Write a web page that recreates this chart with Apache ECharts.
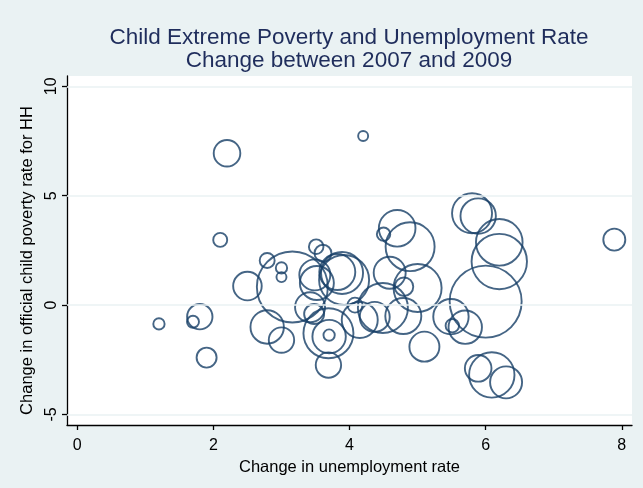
<!DOCTYPE html>
<html>
<head>
<meta charset="utf-8">
<script src="https://cdn.jsdelivr.net/npm/echarts@6/dist/echarts.min.js"></script>
<style>
html,body{margin:0;padding:0;background:#EAF2F3;}
#chart{width:643px;height:488px;}
</style>
</head>
<body>
<div id="chart"></div>
<script>
// Change in unemployment rate (x), change in child poverty rate (y), weight (bubble area)
const unemploymentChange = [1.20,1.70,1.80,1.90,2.20,2.10,2.50,2.79,3.00,3.00,2.79,3.00,3.16,3.42,3.48,3.70,3.70,3.69,3.69,3.51,3.61,3.49,3.52,3.82,3.89,3.92,4.20,4.08,4.15,4.37,4.49,4.79,4.50,4.70,4.89,4.59,5.00,4.80,5.80,5.89,6.20,6.20,6.00,5.49,5.70,5.51,5.10,5.89,6.09,6.30,7.89];
const povertyChange      = [-0.86,-0.76,-0.53,-2.40,6.94,2.98,0.87,2.04,1.70,1.28,-1.00,-1.60,0.83,-0.10,-0.41,-1.37,-1.44,-1.29,-2.74,2.67,2.37,1.38,1.01,1.51,1.47,1.15,7.73,0.00,-0.68,-0.54,-0.13,-0.50,3.24,3.51,2.67,1.48,0.78,0.84,4.20,4.07,2.87,1.99,0.16,-0.53,-1.01,-0.94,-1.90,-2.89,-3.19,-3.53,2.99];
const weights            = [32,36,161,100,177,49,204,56,32,25,279,161,1260,225,100,32,279,625,161,53,72,240,289,324,441,625,25,56,324,225,625,324,45,335,600,256,576,86,400,313,543,767,1296,313,279,45,225,177,515,256,121];
const xTicks = [0,2,4,6,8];
const yTicks = [-5,0,5,10];

const points = unemploymentChange.map((x,i)=>[x, povertyChange[i], weights[i]]);
const font = 'Liberation Sans, Arial, Helvetica, sans-serif';
const chart = echarts.init(document.getElementById('chart'), null, {renderer:'canvas'});
chart.setOption({
  animation:false,
  backgroundColor:'#EAF2F3',
  title:{
    text:'Child Extreme Poverty and Unemployment Rate\nChange between 2007 and 2009',
    left:344, top:22, textAlign:'center',
    textStyle:{color:'#1f2d5c', fontFamily:font, fontSize:22.5, fontWeight:'normal', lineHeight:22.5}
  },
  grid:{left:67, right:11, top:76, bottom:63, show:true, backgroundColor:'#ffffff', borderWidth:0, containLabel:false},
  xAxis:{
    type:'value', min:-0.151, max:8.15,
    name:'Change in unemployment rate', nameLocation:'middle', nameGap:30,
    nameTextStyle:{color:'#000', fontFamily:font, fontSize:16.5},
    axisLine:{show:true, onZero:false, lineStyle:{color:'#000', width:1.3}},
    axisTick:{show:true, length:5, customValues:xTicks, lineStyle:{color:'#000', width:1.3}},
    axisLabel:{customValues:xTicks, color:'#000', fontFamily:font, fontSize:16, margin:13},
    splitLine:{show:false}
  },
  yAxis:{
    type:'value', min:-5.48, max:10.47,
    name:'Change in official child poverty rate for HH', nameLocation:'middle', nameGap:23,
    nameTextStyle:{color:'#000', fontFamily:font, fontSize:16.5, padding:[0,20,0,0]},
    axisLine:{show:true, onZero:false, lineStyle:{color:'#000', width:1.3}},
    axisTick:{show:true, length:5, customValues:yTicks, lineStyle:{color:'#000', width:1.3}},
    axisLabel:{customValues:yTicks, rotate:90, color:'#000', fontFamily:font, fontSize:16, margin:7},
    splitLine:{show:false}
  },
  series:[
    {
      type:'line', data:[], z:1, silent:true,
      markLine:{
        silent:true, symbol:'none', label:{show:false}, animation:false,
        lineStyle:{color:'#EAF2F3', width:1.6, type:'solid'},
        emphasis:{disabled:true},
        data:yTicks.map(v=>({yAxis:v}))
      }
    },
    {
      type:'scatter', z:2, data:points,
      symbol:'circle',
      symbolSize:function(v){return 2*Math.sqrt(v[2]);},
      itemStyle:{color:'rgba(0,0,0,0)', borderColor:'#173f66', borderWidth:1.9},
      emphasis:{disabled:true}
    }
  ]
});
</script>
</body>
</html>
